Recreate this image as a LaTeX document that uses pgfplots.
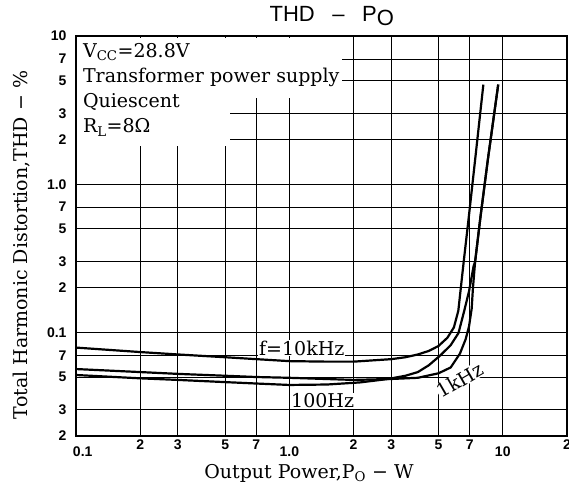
\documentclass[border=0pt]{standalone}
\usepackage{fontspec}
\setmainfont{DejaVu Serif}
\newfontfamily\sansf{Liberation Sans}
\usepackage{pgfplots}
\pgfplotsset{compat=1.18}
\newcommand{\lbl}{\fontsize{19}{22}\selectfont}
\newcommand{\tk}{\sansf\bfseries\fontsize{14}{14}\selectfont}
\begin{document}
\begin{tikzpicture}
\path[use as bounding box] (-76pt,-50pt) rectangle (493pt,436pt);
\begin{axis}[
 at={(0,0)}, anchor=south west,
 scale only axis, width=491pt, height=400pt,
 xmode=log, ymode=log,
 xmin=0.1, xmax=20, ymin=0.02, ymax=10,
 axis line style={line width=1.6pt},
 grid=major, major grid style={black, line width=0.9pt},
 major tick length=0pt,
 xtick={0.2,0.3,0.5,0.7,2,3,5,7,20},
 xticklabels={2,3,5,7,2,3,5,7,2},
 extra x ticks={0.1,1,10},
 extra x tick labels={\makebox[0pt][l]{\hspace{-3pt}0.1},1.0,10},
 extra x tick style={xticklabel style={yshift=-7pt}},
 xticklabel style={font=\tk, yshift=0pt},
 ytick={0.02,0.03,0.05,0.07,0.1,0.2,0.3,0.5,0.7,1,2,3,5,7,10},
 yticklabels={2,3,5,7,0.1,2,3,5,7,1.0,2,3,5,7,10},
 yticklabel style={font=\tk, xshift=-6pt},
 title={THD\hspace{0.8em}–\hspace{0.8em}P\raisebox{-4pt}{O}},
 title style={at={(rel axis cs:0.521,1)}, anchor=base, yshift=8pt, font=\sansf\fontsize{22}{22}\selectfont},
 xlabel={Output Power,P\textsubscript{O} − W},
 xlabel style={at={(rel axis cs:0.4745,0)}, anchor=base, yshift=-42pt, font=\lbl},
 ylabel={Total Harmonic Distortion,THD − \%},
 ylabel style={at={(rel axis cs:0,0.4775)}, anchor=center, yshift=54pt, font=\lbl},
]
\fill[white] (rel axis cs:0.003,0.725) rectangle (rel axis cs:0.314,0.996);
\fill[white] (rel axis cs:0.003,0.845) rectangle (rel axis cs:0.542,0.996);
\node[anchor=base west, font=\lbl, inner sep=0pt] at (rel axis cs:0.014,0.9475) {V\textsubscript{CC}=28.8V};
\node[anchor=base west, font=\lbl, inner sep=0pt] at (rel axis cs:0.014,0.885) {Transformer power supply};
\node[anchor=base west, font=\lbl, inner sep=0pt] at (rel axis cs:0.014,0.82) {Quiescent};
\node[anchor=base west, font=\lbl, inner sep=0pt] at (rel axis cs:0.014,0.7575) {R\textsubscript{L}=8Ω};
\node[anchor=base west, font=\lbl, fill=white, inner sep=1pt] at (rel axis cs:0.3707,0.2025) {f=10kHz};
\node[anchor=base west, font=\lbl, fill=white, inner sep=1pt] at (rel axis cs:0.4358,0.07) {100Hz};
\node[anchor=center, font=\lbl, fill=white, inner sep=0.5pt, rotate=30] at (rel axis cs:0.782,0.14) {1kHz};
% 10 kHz
\addplot[black, line width=2.2pt, line join=round] coordinates {
(0.1,0.079) (0.2,0.0737) (0.3,0.071) (0.5,0.068) (0.7,0.066) (1,0.064) (1.5,0.0635) (2,0.0635) (3,0.066) (3.5,0.068) (4,0.071) (4.5,0.075) (5,0.081) (5.5,0.092) (5.9,0.108) (6.19,0.14) (6.56,0.3) (6.93,0.6) (7.42,1.46) (8.11,4.7)};
% 1 kHz
\addplot[black, line width=2.2pt, line join=round] coordinates {
(0.1,0.0566) (0.2,0.054) (0.3,0.0525) (0.5,0.051) (0.7,0.05) (1,0.0494) (2,0.0478) (3,0.0485) (4,0.0494) (5,0.053) (5.7,0.058) (6.3,0.072) (6.7,0.09) (6.95,0.11) (7.15,0.145) (7.25,0.2) (7.42,0.3) (7.86,0.6) (8.51,1.46) (9.52,4.7)};
% 100 Hz
\addplot[black, line width=2.2pt, line join=round] coordinates {
(0.1,0.0516) (0.2,0.049) (0.3,0.0478) (0.5,0.0462) (0.7,0.0452) (1,0.0442) (1.5,0.0445) (2.15,0.046) (2.9,0.0485) (3.5,0.051) (4,0.054) (4.5,0.06) (5.1,0.07) (5.7,0.082) (6.2,0.099) (6.6,0.14) (6.95,0.19) (7.3,0.28) (7.42,0.3) (7.86,0.6) (8.51,1.46) (9.52,4.7)};
\end{axis}
\end{tikzpicture}
\end{document}
